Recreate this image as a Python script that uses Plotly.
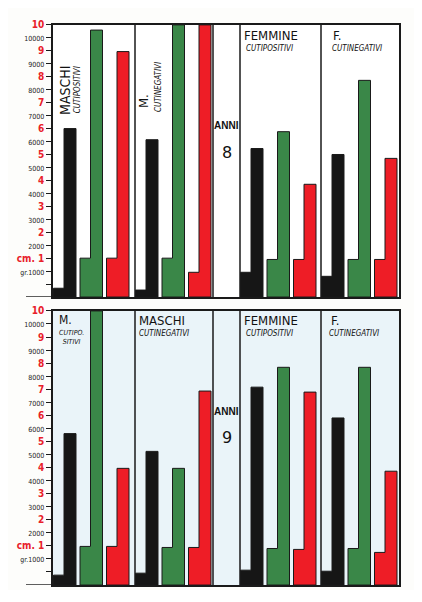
import plotly.graph_objects as go

# ---------------- data (y values in the chart's "gr" scale units) ----------------
groups = ["MASCHI cutipositivi", "M. cutinegativi", "FEMMINE cutipositivi", "F. cutinegativi"]

# Age 8 (top panel)
black_base_8 = [340, 270, 955, 800]
black_8 = [6500, 6070, 5730, 5500]
green_base_8 = [1500, 1500, 1450, 1450]
green_8 = [10300, 10500, 6380, 8360]
red_base_8 = [1500, 955, 1450, 1450]
red_8 = [9470, 10500, 4350, 5350]

# Age 9 (bottom panel)
black_base_9 = [380, 455, 570, 530]
black_9 = [5800, 5120, 7580, 6400]
green_base_9 = [1480, 1440, 1400, 1400]
green_9 = [10500, 4470, 8340, 8340]
red_base_9 = [1480, 1440, 1365, 1250]
red_9 = [4470, 7430, 7390, 4360]

gr_ticks = [1000, 2000, 3000, 4000, 5000, 6000, 7000, 8000, 9000, 10000]
gr_labels = ["gr.1000", "2000", "3000", "4000", "5000", "6000", "7000", "8000", "9000", "10000"]
cm_ticks = [1, 2, 3, 4, 5, 6, 7, 8, 9, 10]
cm_labels = ["cm. 1", "2", "3", "4", "5", "6", "7", "8", "9", "10"]

# ---------------- layout constants ----------------
PAGE_W, PAGE_H = 422, 602
BODY_X, BODY_Y = 8, 10        # page offset of the figure
W, H = PAGE_W - 16, PAGE_H - 20
GROUP_LEFT = [0, 82, 187, 268]      # group left edges in x-axis units
ANNI_COL = (160, 187)
X_MAX = 346
PITCH, STEP_W, BAR_W, OFF = 26.5, 10.5, 22.5, 0.5
Y_MAX = 10500

BLACK = "#161616"
GREEN = "#3a8748"
RED = "#ee1d26"
OUTLINE = "#1a1a1a"
REDTXT = "#e8202a"


def px_x(p):
    return (p - BODY_X) / W


def px_y(p):
    return 1 - (p - BODY_Y) / H


def cm_to_axis(c):
    return c * 1000 + 500


def stepped_polys(k, bases, tops):
    xs, ys = [], []
    for g, (b, t) in enumerate(zip(bases, tops)):
        x0 = GROUP_LEFT[g] + OFF + PITCH * k
        x1 = x0 + STEP_W
        x2 = x0 + BAR_W
        xs += [x0, x0, x1, x1, x2, x2, x0, None]
        ys += [0, b, b, t, t, 0, 0, None]
    return xs, ys


fig = go.Figure()

panels = [
    ("x", "y", [(black_base_8, black_8, BLACK), (green_base_8, green_8, GREEN), (red_base_8, red_8, RED)]),
    ("x2", "y2", [(black_base_9, black_9, BLACK), (green_base_9, green_9, GREEN), (red_base_9, red_9, RED)]),
]

for xa, ya, series in panels:
    for k, (bases, tops, col) in enumerate(series):
        xs, ys = stepped_polys(k, bases, tops)
        fig.add_trace(go.Scatter(
            x=xs, y=ys, xaxis=xa, yaxis=ya, mode="lines", fill="toself",
            fillcolor=col, line=dict(color=OUTLINE, width=1), hoverinfo="skip",
            showlegend=False))

# tick labels
tickvals = [500]
ticktext = [""]
for c, lab in zip(cm_ticks, cm_labels):
    tickvals.append(cm_to_axis(c))
    ticktext.append(f'<span style="color:{REDTXT}"><b>{lab}</b></span>')
for g, lab in zip(gr_ticks, gr_labels):
    tickvals.append(g)
    ticktext.append(f'<span style="font-size:7px">{lab}</span>')

xdom = [px_x(53), px_x(399)]
top_dom = [px_y(296), px_y(21)]
bot_dom = [px_y(587), px_y(310)]

common_x = dict(range=[0, X_MAX], showgrid=False, zeroline=False, showticklabels=False,
                showline=True, linecolor=OUTLINE, linewidth=1.5, mirror=True, ticks="",
                domain=xdom, fixedrange=True)
common_y = dict(range=[0, Y_MAX], showgrid=False, zeroline=False, tickvals=tickvals,
                ticktext=ticktext, ticks="outside", ticklen=5, tickwidth=1, tickcolor=OUTLINE,
                showline=True, linecolor=OUTLINE, linewidth=1.5, mirror=True,
                tickfont=dict(family="Liberation Sans Narrow, DejaVu Sans Condensed, Arial Narrow, sans-serif",
                              size=10, color="#222"), fixedrange=True)

fig.update_layout(
    width=W, height=H,
    margin=dict(l=0, r=0, t=0, b=0),
    paper_bgcolor="#fdfdfb",
    plot_bgcolor="rgba(0,0,0,0)",
    xaxis=dict(**common_x, anchor="y"),
    yaxis=dict(**common_y, domain=top_dom, anchor="x"),
    xaxis2=dict(**common_x, anchor="y2"),
    yaxis2=dict(**common_y, domain=bot_dom, anchor="x2"),
)

shapes = []
# panel backgrounds
shapes.append(dict(type="rect", xref="x domain", yref="y domain", x0=0, x1=1, y0=0, y1=1,
                   fillcolor="#ffffff", line=dict(width=0), layer="below"))
shapes.append(dict(type="rect", xref="x2 domain", yref="y2 domain", x0=0, x1=1, y0=0, y1=1,
                   fillcolor="#eaf4f9", line=dict(width=0), layer="below"))
for xa, ya in [("x", "y"), ("x2", "y2")]:
    for xv in [GROUP_LEFT[1], ANNI_COL[0], ANNI_COL[1], GROUP_LEFT[3]]:
        shapes.append(dict(type="line", xref=xa, yref=f"{ya} domain", x0=xv, x1=xv, y0=0, y1=1,
                           line=dict(color=OUTLINE, width=1.5)))
    # baseline extending to the left of the axis
    shapes.append(dict(type="line", xref="paper", yref=ya, x0=px_x(26), x1=xdom[0], y0=0, y1=0,
                       line=dict(color=OUTLINE, width=1.5)))
fig.update_layout(shapes=shapes)

FAM = "DejaVu Sans Condensed, DejaVu Sans, sans-serif"
TITLE_FONT = dict(family=FAM, size=13, color="#111")
SUB_FONT = dict(family=FAM, size=8, color="#111")
ANNI_FONT = dict(family="Liberation Sans, Arial, sans-serif", size=10, color="#111")
NUM_FONT = dict(family="DejaVu Sans, sans-serif", size=16, color="#111")

ann = []


def add(text, x, y, xa, ya, font, angle=0, xanchor="center", yanchor="middle"):
    ann.append(dict(text=text, x=x, y=y, xref=xa, yref=ya, showarrow=False, font=font,
                    textangle=angle, xanchor=xanchor, yanchor=yanchor))


# top panel (age 8)
add("MASCHI", 12, 7950, "x", "y", dict(TITLE_FONT, size=14), angle=-90)
add("<i>CUTIPOSITIVI</i>", 24.5, 8000, "x", "y", SUB_FONT, angle=-90)
add("M.", 90, 7560, "x", "y", TITLE_FONT, angle=-90)
add("<i>CUTINEGATIVI</i>", 105, 8100, "x", "y", SUB_FONT, angle=-90)
add("<b>ANNI</b>", 173.5, 6605, "x", "y", ANNI_FONT)
add("8", 173.5, 5575, "x", "y", NUM_FONT)
add("FEMMINE", 189, 10080, "x", "y", TITLE_FONT, xanchor="left")
add("<i>CUTIPOSITIVI</i>", 191, 9600, "x", "y", SUB_FONT, xanchor="left")
add("F.", 278, 10080, "x", "y", TITLE_FONT, xanchor="left")
add("<i>CUTINEGATIVI</i>", 277, 9600, "x", "y", SUB_FONT, xanchor="left")

# bottom panel (age 9)
add("M.", 4, 10500, "x2", "y2", dict(TITLE_FONT, size=12), xanchor="left", yanchor="top")
add("<i>CUTIPO.<br>SITIVI</i>", 4, 9900, "x2", "y2", dict(SUB_FONT, size=7), xanchor="left", yanchor="top")
add("MASCHI", 84, 10120, "x2", "y2", TITLE_FONT, xanchor="left")
add("<i>CUTINEGATIVI</i>", 84, 9630, "x2", "y2", SUB_FONT, xanchor="left")
add("<b>ANNI</b>", 173.5, 6630, "x2", "y2", ANNI_FONT)
add("9", 173.5, 5650, "x2", "y2", NUM_FONT)
add("FEMMINE", 189, 10120, "x2", "y2", TITLE_FONT, xanchor="left")
add("<i>CUTIPOSITIVI</i>", 191, 9630, "x2", "y2", SUB_FONT, xanchor="left")
add("F.", 276, 10120, "x2", "y2", TITLE_FONT, xanchor="left")
add("<i>CUTINEGATIVI</i>", 274, 9630, "x2", "y2", SUB_FONT, xanchor="left")

fig.update_layout(annotations=ann)

fig.write_html("out.html")
